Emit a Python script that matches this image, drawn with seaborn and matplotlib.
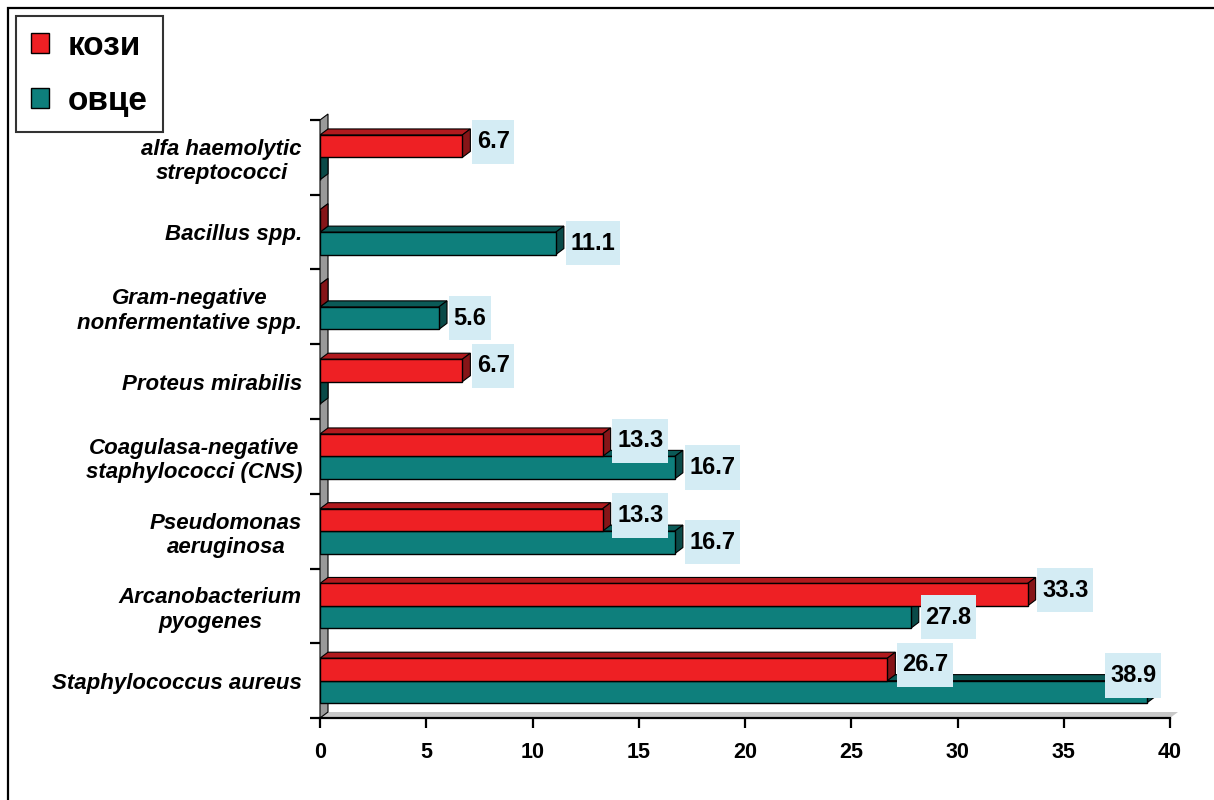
import matplotlib
matplotlib.use("Agg")
import matplotlib.pyplot as plt
import seaborn as sns
import pandas as pd
import numpy as np
from matplotlib.patches import Polygon, Rectangle, Patch
from matplotlib.path import Path

# ---- data ----
categories = [
    "alfa haemolytic\nstreptococci",
    "Bacillus spp.",
    "Gram-negative\nnonfermentative spp.",
    "Proteus mirabilis",
    "Coagulasa-negative\nstaphylococci (CNS)",
    "Pseudomonas\naeruginosa",
    "Arcanobacterium\npyogenes",
    "Staphylococcus aureus",
]
groups = ["кози", "овце"]
kozi = [6.7, 0, 0, 6.7, 13.3, 13.3, 33.3, 26.7]
ovce = [0, 11.1, 5.6, 0, 16.7, 16.7, 27.8, 38.9]
x_ticks = [0, 5, 10, 15, 20, 25, 30, 35, 40]

RED, TEAL = "#EE2024", "#0E7F7C"
RED_TOP, TEAL_TOP = "#B01A1E", "#0B5A57"
RED_SIDE, TEAL_SIDE = "#861518", "#0A4A48"
LABEL_BG = "#D4ECF4"

sns.set_theme(style="white")
plt.rcParams['font.family'] = ['Liberation Sans', 'DejaVu Sans']
plt.rcParams['text.color'] = 'black'
plt.rcParams['xtick.color'] = 'black'
plt.rcParams['ytick.color'] = 'black'


def label_box(x0, y0, width, height, mutation_size):
    px = 0.2 * mutation_size
    py = 0.45 * mutation_size
    x0, y0 = x0 - px, y0 - py
    x1, y1 = x0 + width + 2 * px, y0 + height + 2 * py
    return Path([(x0, y0), (x1, y0), (x1, y1), (x0, y1), (x0, y0)], closed=True)


df = pd.DataFrame({
    "category": categories * 2,
    "value": kozi + ovce,
    "group": [groups[0]] * len(categories) + [groups[1]] * len(categories),
})

W, H = 1214, 800
fig = plt.figure(figsize=(W / 100, H / 100), dpi=100)
ax = fig.add_axes([320 / W, 82 / H, 850 / W, 598 / H])

sns.barplot(data=df, y="category", x="value", hue="group", order=categories,
            hue_order=groups, palette=[RED, TEAL], orient="h", width=0.6,
            edgecolor="black", linewidth=1.0, ax=ax, legend=False,
            saturation=1, errorbar=None)

ax.set_xlim(0, 40)
ax.set_ylim(len(categories) - 0.5, -0.5)

# 3D depth in data units
dx = 8 * 40 / 850
dy = 6 * len(categories) / 598
gap = 6.5 * 40 / 850

bars = list(ax.patches)
for p in bars:
    x0, w, y0, h = p.get_x(), p.get_width(), p.get_y(), p.get_height()
    fc = p.get_facecolor()
    is_red = fc[0] > 0.5
    top_c = RED_TOP if is_red else TEAL_TOP
    side_c = RED_SIDE if is_red else TEAL_SIDE
    z = 2 + (len(categories) - (y0 + h / 2)) * 0.1
    p.set_zorder(z)
    top = Polygon([(x0, y0), (x0 + w, y0), (x0 + w + dx, y0 - dy), (x0 + dx, y0 - dy)],
                  closed=True, facecolor=top_c, edgecolor="black", lw=0.8, zorder=z - 0.01)
    side = Polygon([(x0 + w, y0), (x0 + w, y0 + h), (x0 + w + dx, y0 + h - dy), (x0 + w + dx, y0 - dy)],
                   closed=True, facecolor=side_c, edgecolor="black", lw=0.8, zorder=z - 0.01)
    ax.add_patch(top)
    ax.add_patch(side)
    if w > 0:
        yc = y0 + h / 2 - (0.06 if is_red else 0.0)
        bbox = dict(boxstyle=label_box, facecolor=LABEL_BG, edgecolor="none")
        if w + dx + 3 > 40:
            ax.text(39.35, yc - 0.22, f"{w:.1f}", ha="right", va="center", fontsize=17,
                    fontweight="bold", color="black", zorder=20, bbox=bbox)
        else:
            ax.text(w + dx + gap, yc, f"{w:.1f}", ha="left", va="center", fontsize=17,
                    fontweight="bold", color="black", zorder=20, bbox=bbox)

# walls
ylo, yhi = -0.5, len(categories) - 0.5
wall = Polygon([(0, ylo), (0, yhi), (dx, yhi - dy), (dx, ylo - dy)], closed=True,
               facecolor="#9A9A9A", edgecolor="black", lw=0.8, zorder=1, clip_on=False)
floor = Polygon([(0, yhi), (40, yhi), (40 + dx, yhi - dy), (dx, yhi - dy)], closed=True,
                facecolor="#C8C8C8", edgecolor="none", zorder=0.9, clip_on=False)
ax.add_patch(wall)
ax.add_patch(floor)

# axes styling
for s in ["top", "right", "left"]:
    ax.spines[s].set_visible(False)
ax.spines["bottom"].set_color("black")
ax.spines["bottom"].set_linewidth(1.6)
ax.spines["bottom"].set_zorder(5)

ax.set_xticks(x_ticks)
ax.set_xticklabels([str(t) for t in x_ticks], fontsize=15.5, fontweight="bold", color="black")
ax.tick_params(axis="x", bottom=True, length=7, width=1.6, color="black", pad=10)

ax.set_yticks(range(len(categories)))
ax.set_yticklabels(categories, fontsize=16, fontweight="bold", fontstyle="italic", color="black")
for lbl in ax.get_yticklabels():
    lbl.set_multialignment("center")
ax.set_yticks(np.arange(-0.5, len(categories), 1), minor=True)
ax.tick_params(axis="y", which="major", left=False, length=0, pad=13)
ax.tick_params(axis="y", which="minor", left=True, length=7, width=1.6, color="black")

ax.set_xlabel("")
ax.set_ylabel("")
ax.grid(False)

# legend
handles = [Patch(facecolor=RED, edgecolor="black", lw=1),
           Patch(facecolor=TEAL, edgecolor="black", lw=1)]
leg = fig.legend(handles, groups, loc="upper left", bbox_to_anchor=(16 / W, 1 - 16 / H),
                 frameon=True, fancybox=False, edgecolor="black",
                 prop=dict(weight="bold", size=24), handlelength=0.55, handleheight=0.55,
                 handletextpad=0.55, labelspacing=0.72, borderpad=0.45, borderaxespad=0)
leg.get_frame().set_linewidth(1.5)
for t in leg.get_texts():
    t.set_color("black")

# outer frame
fig.patches.append(Rectangle((8 / W, -0.05), 1.1, 1 - 8 / H + 0.05, transform=fig.transFigure,
                             fill=False, edgecolor="black", lw=1.6))

fig.savefig("out.png", dpi=100)
